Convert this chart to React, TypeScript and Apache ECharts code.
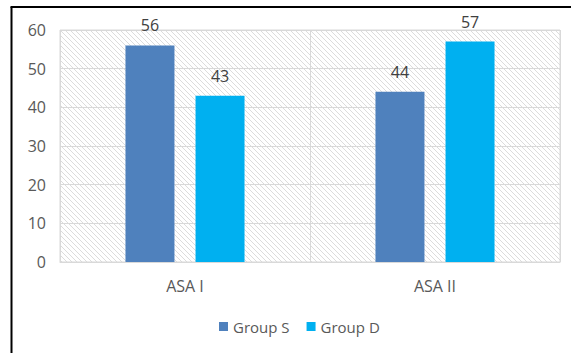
import React, { useEffect, useRef } from "react";
import * as echarts from "echarts";

const categories = ["ASA I", "ASA II"];
const groupS = [56, 44];
const groupD = [43, 57];
const yTicks = { min: 0, max: 60, interval: 10 };

function makeHatch(): HTMLCanvasElement {
  const c = document.createElement("canvas");
  c.width = 5;
  c.height = 5;
  const ctx = c.getContext("2d")!;
  ctx.fillStyle = "#ffffff";
  ctx.fillRect(0, 0, 5, 5);
  ctx.strokeStyle = "#dcdcdc";
  ctx.lineWidth = 1;
  ctx.beginPath();
  ctx.moveTo(-1, -1);
  ctx.lineTo(6, 6);
  ctx.moveTo(-1, 4);
  ctx.lineTo(1, 6);
  ctx.moveTo(4, -1);
  ctx.lineTo(6, 1);
  ctx.stroke();
  return c;
}

export default function App() {
  const ref = useRef<HTMLDivElement>(null);
  useEffect(() => {
    if (!ref.current) return;
    const chart = echarts.init(ref.current, null, { renderer: "svg" });
    const font = "'Open Sans', 'Noto Sans', sans-serif";
    chart.setOption({
      animation: false,
      backgroundColor: "#ffffff",
      textStyle: { fontFamily: font },
      grid: {
        left: 60,
        right: 11,
        top: 30,
        bottom: 91,
        show: true,
        backgroundColor: { image: makeHatch(), repeat: "repeat" },
        borderColor: "#d9d9d9",
        borderWidth: 1,
      },
      legend: {
        left: 214,
        top: 314,
        itemWidth: 9,
        itemHeight: 9,
        itemGap: 17,
        icon: "rect",
        textStyle: { fontSize: 15, color: "#595959", fontFamily: font },
        data: ["Group S", "Group D"],
      },
      xAxis: {
        type: "category",
        data: categories,
        axisLine: { show: true, lineStyle: { color: "#d9d9d9" } },
        axisTick: { show: false },
        axisLabel: { fontSize: 16, color: "#595959", margin: 16, fontFamily: font },
        splitLine: { show: true, lineStyle: { color: "#d9d9d9" } },
      },
      yAxis: {
        type: "value",
        min: yTicks.min,
        max: yTicks.max,
        interval: yTicks.interval,
        axisLine: { show: false },
        axisTick: { show: false },
        axisLabel: { fontSize: 16, color: "#595959", margin: 14, fontFamily: font },
        splitLine: { show: true, lineStyle: { color: "#d9d9d9" } },
      },
      series: [
        {
          name: "Group S",
          type: "bar",
          data: groupS,
          barWidth: 49,
          barGap: "43%",
          itemStyle: { color: "#4f81bd" },
          label: { show: true, position: "top", distance: 12, fontSize: 16, color: "#404040", fontFamily: font },
        },
        {
          name: "Group D",
          type: "bar",
          data: groupD,
          barWidth: 49,
          barGap: "43%",
          itemStyle: { color: "#00b0f0" },
          label: { show: true, position: "top", distance: 12, fontSize: 16, color: "#404040", fontFamily: font },
        },
      ],
      graphic: [
        { type: "line", shape: { x1: 11.5, y1: 7, x2: 11.5, y2: 353 }, style: { stroke: "#000", lineWidth: 2 } },
        { type: "line", shape: { x1: 10.5, y1: 7, x2: 571, y2: 7 }, style: { stroke: "#000", lineWidth: 2 } },
      ],
    });
    return () => chart.dispose();
  }, []);
  return (
    <div
      ref={ref}
      style={{ position: "fixed", left: 0, top: 0, width: 571, height: 353 }}
    />
  );
}
